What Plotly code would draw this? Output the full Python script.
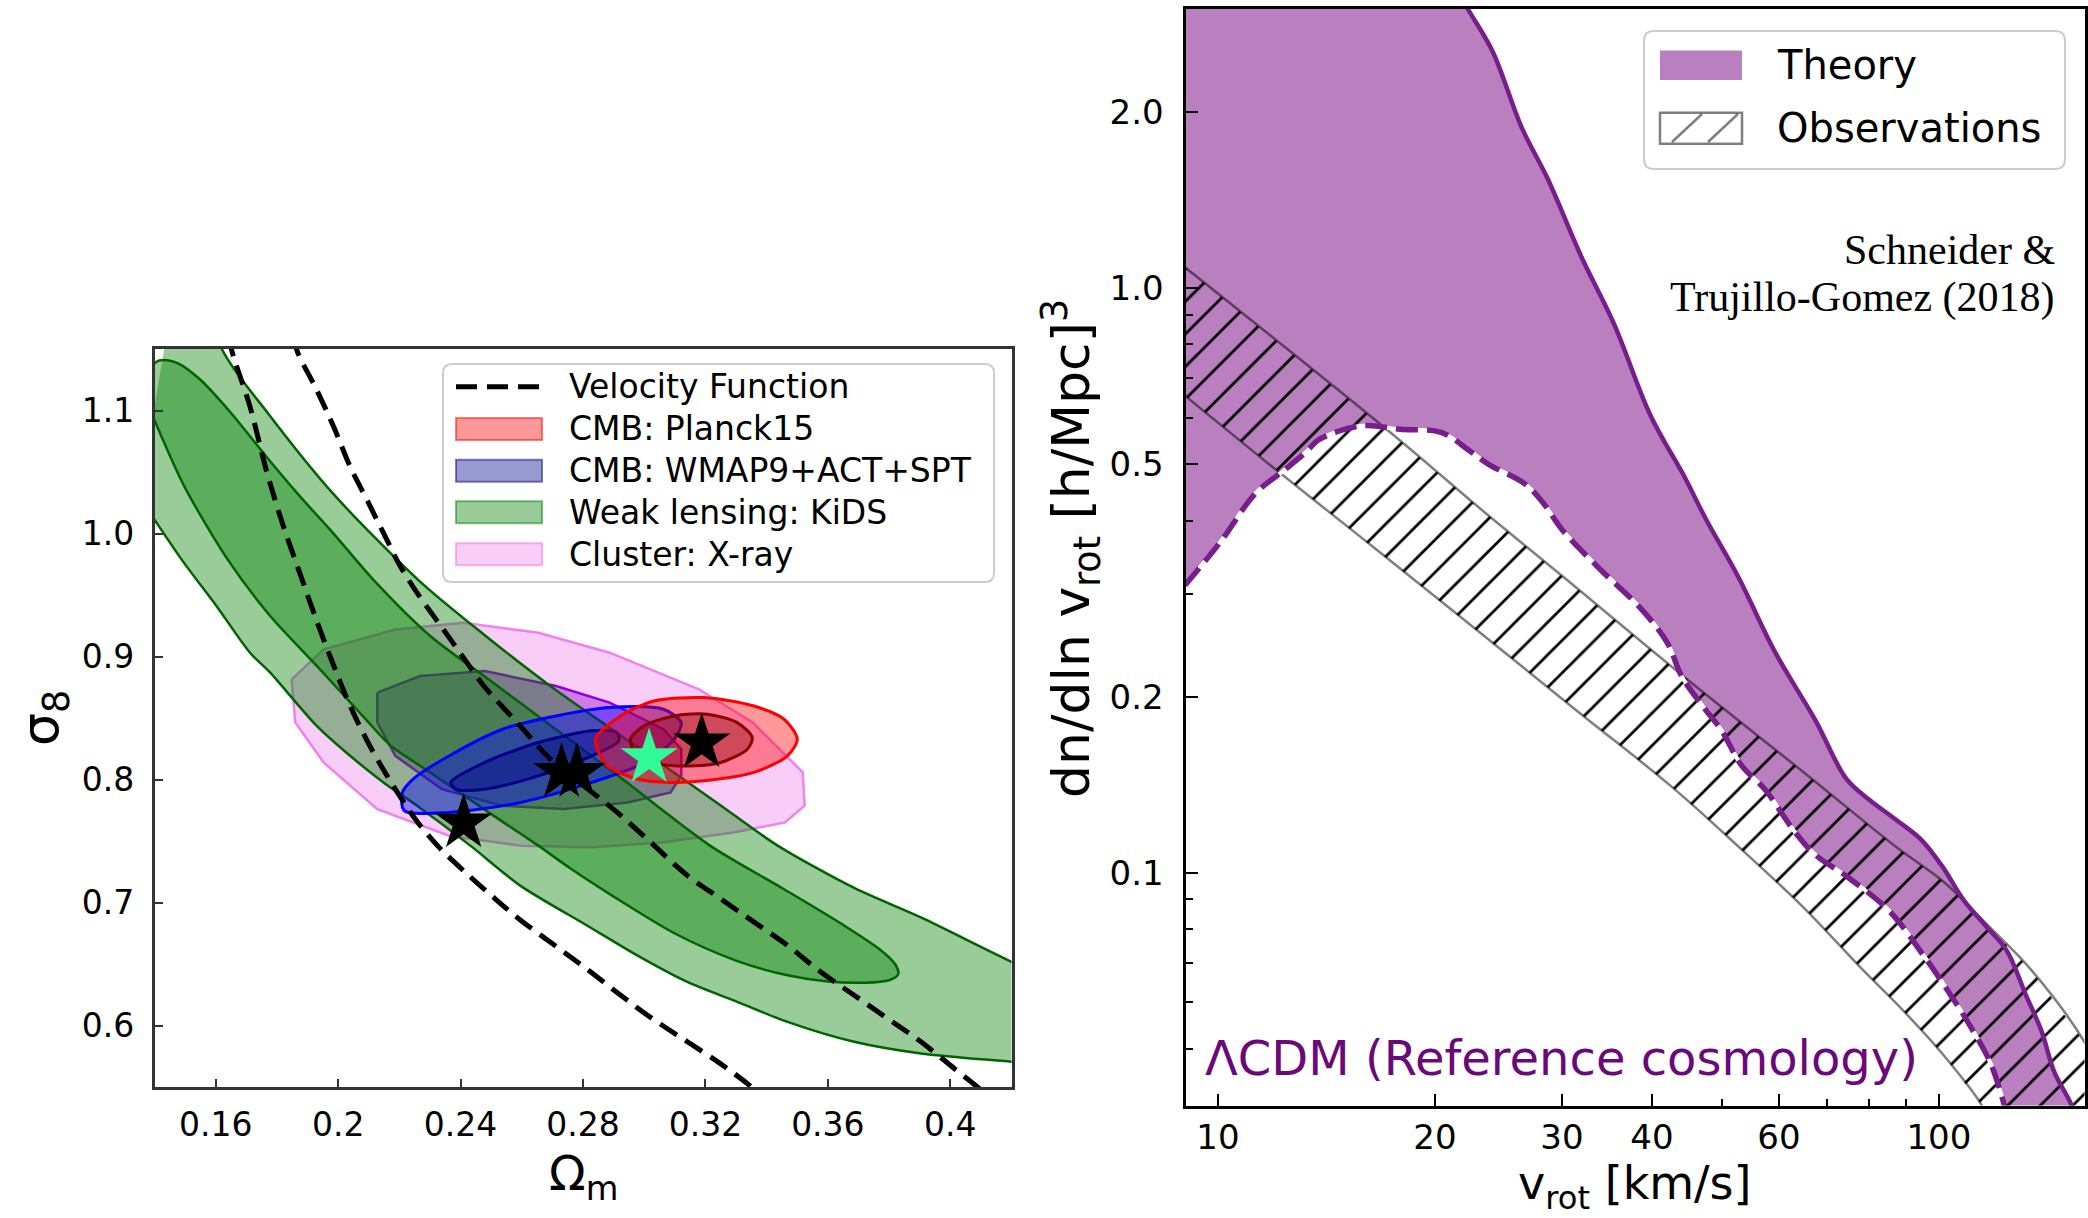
import plotly.graph_objects as go

FIG_W, FIG_H = 2088, 1218

# ---------------- Left panel: sigma_8 vs Omega_m constraints ----------------
# KiDS weak lensing, outer (95%) band: upper edge left->right, lower edge right->left
kids95_om = [0.150, 0.162, 0.177, 0.1985, 0.2263, 0.2476, 0.2694, 0.2912, 0.3119, 0.325, 0.3436,
             0.3686, 0.3904, 0.420, 0.440,
             0.440, 0.420, 0.3904, 0.3686, 0.3468, 0.3304, 0.3141, 0.2977, 0.2813, 0.2595, 0.2432,
             0.2258, 0.2148, 0.2039, 0.193, 0.1778, 0.1712, 0.1603, 0.1494, 0.140, 0.135]
kids95_s8 = [1.25, 1.15, 1.098, 1.032, 0.962, 0.918, 0.876, 0.838, 0.802, 0.779, 0.7464,
             0.712, 0.688, 0.652, 0.630,
             0.566, 0.5707, 0.5775, 0.587, 0.6032, 0.6194, 0.6356, 0.6572, 0.6815, 0.7139, 0.7464,
             0.7788, 0.7978, 0.8194, 0.8437, 0.887, 0.9032, 0.941, 0.977, 1.0113, 1.03]

# KiDS inner (68%) contour
kids68_om = [0.138, 0.1405, 0.143, 0.148, 0.155, 0.165, 0.1767, 0.1876, 0.1985, 0.2117, 0.230, 0.250,
             0.270, 0.290, 0.3215, 0.345, 0.365, 0.377, 0.382, 0.383,
             0.380, 0.372, 0.360, 0.3468, 0.330, 0.310, 0.290, 0.2758, 0.2654, 0.250, 0.230, 0.217,
             0.2094, 0.1931, 0.1778, 0.1636, 0.1494, 0.140, 0.137]
kids68_s8 = [1.130, 1.1395, 1.141, 1.138, 1.125, 1.098, 1.062, 1.030, 1.000, 0.962, 0.917, 0.880,
             0.843, 0.806, 0.7464, 0.712, 0.682, 0.662, 0.650, 0.642,
             0.637, 0.635, 0.636, 0.641, 0.653, 0.675, 0.705, 0.728, 0.7464, 0.772, 0.806, 0.828,
             0.848, 0.8923, 0.933, 0.980, 1.040, 1.092, 1.110]

# Cluster X-ray contours
xray95_om = [0.1848, 0.1953, 0.2187, 0.2409, 0.2654, 0.2887, 0.3179, 0.3355, 0.3518, 0.3524, 0.3460,
             0.3296, 0.3063, 0.2829, 0.2596, 0.2362, 0.2128, 0.1953, 0.186, 0.1848]
xray95_s8 = [0.8815, 0.9059, 0.9221, 0.9275, 0.9194, 0.9032, 0.8734, 0.8464, 0.8059, 0.7789, 0.7653,
             0.7572, 0.7491, 0.745, 0.7464, 0.7545, 0.776, 0.8139, 0.8464, 0.8815]
xray68_om = [0.2128, 0.2268, 0.2479, 0.2712, 0.2887, 0.3063, 0.3121, 0.3121, 0.3086, 0.2946, 0.2736,
             0.2537, 0.2339, 0.2187, 0.2128, 0.2128]
xray68_s8 = [0.8707, 0.8842, 0.8883, 0.8761, 0.8626, 0.841, 0.8248, 0.8031, 0.7896, 0.7815, 0.7761,
             0.7788, 0.7923, 0.8193, 0.8464, 0.8707]

# CMB: WMAP9+ACT+SPT contours
wmap95_om = [0.221, 0.2245, 0.2362, 0.2537, 0.2712, 0.2887, 0.3063, 0.3121, 0.3098, 0.3004, 0.2829,
             0.2596, 0.2362, 0.2216, 0.221]
wmap95_s8 = [0.7897, 0.8005, 0.8193, 0.841, 0.8518, 0.8586, 0.8572, 0.8464, 0.8329, 0.814, 0.7978,
             0.7815, 0.7734, 0.7748, 0.7897]
wmap68_om = [0.2368, 0.2479, 0.2654, 0.2829, 0.2911, 0.2917, 0.2829, 0.2654, 0.2479, 0.2385, 0.2368]
wmap68_s8 = [0.7978, 0.814, 0.8302, 0.8397, 0.8383, 0.8315, 0.8193, 0.8031, 0.7923, 0.7923, 0.7978]

# CMB: Planck15 contours
planck95_om = [0.2841, 0.2923, 0.3032, 0.3195, 0.3358, 0.3457, 0.350, 0.3468, 0.3358, 0.3195, 0.3086,
               0.2977, 0.2879, 0.2841]
planck95_s8 = [0.8329, 0.8518, 0.864, 0.8667, 0.8599, 0.8491, 0.8329, 0.8194, 0.8059, 0.7991, 0.7978,
               0.8005, 0.8113, 0.8329]
planck68_om = [0.2955, 0.2999, 0.3097, 0.3206, 0.3304, 0.3353, 0.3337, 0.325, 0.3163, 0.3054, 0.2977, 0.2955]
planck68_s8 = [0.8329, 0.8437, 0.8518, 0.8532, 0.8464, 0.8343, 0.8248, 0.814, 0.8113, 0.8126, 0.8194, 0.8329]

# Velocity-function degeneracy lines
vf_low_om = [0.1645, 0.1652, 0.1712, 0.1767, 0.1821, 0.1876, 0.193, 0.1985, 0.2039, 0.2094, 0.2148,
             0.2203, 0.2258, 0.233, 0.241, 0.250, 0.2595, 0.2704, 0.2813, 0.2922, 0.3031, 0.3141,
             0.325, 0.3337, 0.336]
vf_low_s8 = [1.16, 1.1492, 1.1032, 1.05, 1.006, 0.967, 0.929, 0.893, 0.86, 0.832, 0.808,
             0.786, 0.766, 0.745, 0.726, 0.706, 0.686, 0.666, 0.646, 0.625, 0.605, 0.587,
             0.569, 0.553, 0.548]
vf_high_om = [0.1858, 0.1865, 0.193, 0.1985, 0.2039, 0.2094, 0.2148, 0.2203, 0.2258, 0.2312, 0.2367,
              0.2421, 0.2476, 0.2585, 0.2694, 0.2803, 0.2912, 0.3021, 0.3141, 0.325, 0.3359, 0.3468,
              0.3577, 0.3686, 0.3795, 0.3904, 0.4013, 0.4079, 0.410]
vf_high_s8 = [1.16, 1.1492, 1.1167, 1.087, 1.0546, 1.0275, 1.0005, 0.9735, 0.9518, 0.9329, 0.914,
              0.8951, 0.8761, 0.8464, 0.8166, 0.795, 0.7734, 0.7491, 0.7221, 0.7032, 0.6842, 0.6653,
              0.6437, 0.6248, 0.6059, 0.587, 0.5653, 0.5523, 0.548]

# Best-fit points
best_om = [0.241, 0.273, 0.278, 0.3188]
best_s8 = [0.765, 0.806, 0.806, 0.830]
ref_om = [0.3016]
ref_s8 = [0.818]

om_ticks = [0.16, 0.2, 0.24, 0.28, 0.32, 0.36, 0.4]
om_ticktext = ["0.16", "0.2", "0.24", "0.28", "0.32", "0.36", "0.4"]
s8_ticks = [0.6, 0.7, 0.8, 0.9, 1.0, 1.1]
s8_ticktext = ["0.6", "0.7", "0.8", "0.9", "1.0", "1.1"]

# ---------------- Right panel: velocity function ----------------
theory_up_v = [9.0, 15.0, 19.0, 22.2, 24.06, 26.36, 28.68, 31.92, 35.45, 39.81, 44.46, 47.53, 52.72,
               59.29, 67.45, 74.33, 79.98, 87.10, 94.41, 101.2, 108.3, 116.9, 124.2, 132.1, 138.8,
               144.5, 152.4, 154.9]
theory_up_n = [20.0, 6.8, 4.16, 3.0, 2.53, 1.884, 1.534, 1.130, 0.866, 0.605, 0.473, 0.402, 0.320,
               0.238, 0.182, 0.145, 0.1334, 0.1233, 0.1140, 0.1023, 0.0897, 0.0804, 0.0736, 0.0617,
               0.0536, 0.0457, 0.0403, 0.038]
theory_lo_v = [9.0, 10.1, 11.27, 12.42, 13.3, 13.8, 15.85, 17.88, 20.4, 22.4, 23.8, 26.6, 28.2, 30.06,
               34.0, 38.7, 42.05, 43.97, 47.33, 49.96, 53.27, 57.4, 63.1, 67.4, 74.6, 85.3, 95.06,
               105.2, 110.7, 117.8, 123.0, 124.5]
theory_lo_n = [0.31, 0.369, 0.445, 0.490, 0.526, 0.55, 0.581, 0.573, 0.566, 0.525, 0.498, 0.463, 0.43,
               0.385, 0.329, 0.282, 0.2466, 0.2168, 0.1907, 0.175, 0.1524, 0.1387, 0.1175, 0.1073,
               0.0984, 0.0861, 0.0724, 0.0603, 0.0545, 0.0474, 0.0404, 0.038]

obs_up_v = [9.0, 17.28, 23.23, 29.8, 44.87, 65.36, 87.36, 101.6, 116.8, 134.3, 159.6, 175.0]
obs_up_n = [1.084, 0.568, 0.417, 0.324, 0.2135, 0.1475, 0.1105, 0.0964, 0.0814, 0.0682, 0.0511, 0.040]
obs_lo_v = [9.0, 12.0, 15.96, 21.71, 31.46, 42.5, 52.15, 64.66, 78.45, 89.25, 101.6, 114.3, 118.0]
obs_lo_n = [0.654, 0.490, 0.3707, 0.2737, 0.1892, 0.1406, 0.1122, 0.0876, 0.0682, 0.0581, 0.0487,
            0.0403, 0.037]

v_ticks = [10, 20, 30, 40, 60, 100]
v_ticktext = ["10", "20", "30", "40", "60", "100"]
v_minor = [50, 70, 80, 90]
n_ticks = [0.1, 0.2, 0.5, 1.0, 2.0]
n_ticktext = ["0.1", "0.2", "0.5", "1.0", "2.0"]
n_minor = [0.05, 0.06, 0.07, 0.08, 0.09, 0.3, 0.4, 0.6, 0.7, 0.8, 0.9]

# ---------------- styling ----------------
FONT = "DejaVu Sans"
PURPLE_LINE = "#781e8c"
PURPLE_FILL = "rgba(118,0,128,0.5)"


def X(px):
    return px / FIG_W


def Y(py):
    return 1 - py / FIG_H


def rounded_box(x0, y0, x1, y1, r):
    return (f"M{X(x0 + r)},{Y(y0)} L{X(x1 - r)},{Y(y0)} Q{X(x1)},{Y(y0)} {X(x1)},{Y(y0 + r)} "
            f"L{X(x1)},{Y(y1 - r)} Q{X(x1)},{Y(y1)} {X(x1 - r)},{Y(y1)} L{X(x0 + r)},{Y(y1)} "
            f"Q{X(x0)},{Y(y1)} {X(x0)},{Y(y1 - r)} L{X(x0)},{Y(y0 + r)} Q{X(x0)},{Y(y0)} {X(x0 + r)},{Y(y0)} Z")


fig = go.Figure()


def contour(om, s8, fill, edge, width=2.5, shape="spline"):
    fig.add_trace(go.Scatter(x=om, y=s8, mode="lines", fill="toself", fillcolor=fill,
                             line=dict(color=edge, width=width, shape=shape, smoothing=0.8),
                             hoverinfo="skip", showlegend=False, xaxis="x", yaxis="y"))


# drawing order: cluster, weak lensing, WMAP, Planck
contour(xray95_om, xray95_s8, "rgba(238,130,238,0.4)", "#EE82EE", shape="linear")
contour(xray68_om, xray68_s8, "rgba(148,0,211,0.4)", "#9400D3", shape="linear")
contour(kids95_om, kids95_s8, "rgba(0,128,0,0.4)", "#006400")
contour(kids68_om, kids68_s8, "rgba(0,128,0,0.4)", "#006400")
contour(wmap95_om, wmap95_s8, "rgba(0,0,255,0.4)", "#0000FF", width=3)
contour(wmap68_om, wmap68_s8, "rgba(0,0,139,0.4)", "#00008B", width=3)
contour(planck95_om, planck95_s8, "rgba(255,0,0,0.4)", "#FF0000", width=3)
contour(planck68_om, planck68_s8, "rgba(139,0,0,0.4)", "#8B0000", width=3)

for om, s8 in ((vf_low_om, vf_low_s8), (vf_high_om, vf_high_s8)):
    fig.add_trace(go.Scatter(x=om, y=s8, mode="lines",
                             line=dict(color="black", width=5, dash="20px,10px", shape="spline"),
                             hoverinfo="skip", showlegend=False, xaxis="x", yaxis="y"))

fig.add_trace(go.Scatter(x=best_om, y=best_s8, mode="markers",
                         marker=dict(symbol="star", size=43, color="black", line=dict(width=0)),
                         hoverinfo="skip", showlegend=False, xaxis="x", yaxis="y"))
fig.add_trace(go.Scatter(x=ref_om, y=ref_s8, mode="markers",
                         marker=dict(symbol="star", size=43, color="rgb(50,250,150)", line=dict(width=0)),
                         hoverinfo="skip", showlegend=False, xaxis="x", yaxis="y"))

# Right panel: theory band
fig.add_trace(go.Scatter(x=theory_up_v + theory_lo_v[::-1], y=theory_up_n + theory_lo_n[::-1],
                         mode="lines", fill="toself", fillcolor=PURPLE_FILL, line=dict(width=0),
                         hoverinfo="skip", showlegend=False, xaxis="x2", yaxis="y2"))
# Observations: hatched band
fig.add_trace(go.Scatter(x=obs_up_v + obs_lo_v[::-1], y=obs_up_n + obs_lo_n[::-1],
                         mode="lines", fill="toself", fillcolor="rgba(0,0,0,0)",
                         fillpattern=dict(shape="/", fgcolor="black", bgcolor="rgba(0,0,0,0)",
                                          size=23, solidity=0.12, fillmode="replace"),
                         line=dict(width=0), hoverinfo="skip", showlegend=False, xaxis="x2", yaxis="y2"))
for vv, nn in ((obs_up_v, obs_up_n), (obs_lo_v, obs_lo_n)):
    fig.add_trace(go.Scatter(x=vv, y=nn, mode="lines",
                             line=dict(color="rgba(0,0,0,0.5)", width=2.5, shape="spline"),
                             hoverinfo="skip", showlegend=False, xaxis="x2", yaxis="y2"))
# lower theory edge: dashed purple over a white stroke
fig.add_trace(go.Scatter(x=theory_lo_v, y=theory_lo_n, mode="lines",
                         line=dict(color="white", width=4, shape="spline"),
                         hoverinfo="skip", showlegend=False, xaxis="x2", yaxis="y2"))
fig.add_trace(go.Scatter(x=theory_lo_v, y=theory_lo_n, mode="lines",
                         line=dict(color=PURPLE_LINE, width=5.5, dash="22px,9px", shape="spline"),
                         hoverinfo="skip", showlegend=False, xaxis="x2", yaxis="y2"))
fig.add_trace(go.Scatter(x=theory_up_v, y=theory_up_n, mode="lines",
                         line=dict(color=PURPLE_LINE, width=4.5, shape="spline"),
                         hoverinfo="skip", showlegend=False, xaxis="x2", yaxis="y2"))

# ---------------- legends (drawn as shapes + text) ----------------
shapes = []
annotations = []

# left legend
shapes.append(dict(type="path", xref="paper", yref="paper", path=rounded_box(443, 364, 994, 582, 9),
                   line=dict(color="#cccccc", width=2), fillcolor="rgba(255,255,255,0.85)"))
left_rows = [386.7, 429.0, 470.7, 512.3, 554.3]
left_labels = ["Velocity Function", "CMB: Planck15", "CMB: WMAP9+ACT+SPT", "Weak lensing: KiDS",
               "Cluster: X-ray"]
swatches = [None, ("rgba(255,0,0,0.4)", "rgba(255,0,0,0.5)"), ("rgba(0,0,139,0.4)", "rgba(0,0,139,0.5)"),
            ("rgba(0,128,0,0.4)", "rgba(0,128,0,0.5)"), ("rgba(238,130,238,0.4)", "rgba(238,130,238,0.6)")]
for yc, lab, sw in zip(left_rows, left_labels, swatches):
    if sw is None:
        shapes.append(dict(type="line", xref="paper", yref="paper", x0=X(456), x1=X(542), y0=Y(yc), y1=Y(yc),
                           line=dict(color="black", width=5, dash="21px,10px")))
    else:
        shapes.append(dict(type="rect", xref="paper", yref="paper", x0=X(456), x1=X(542),
                           y0=Y(yc - 11), y1=Y(yc + 11), fillcolor=sw[0], line=dict(color=sw[1], width=2)))
    annotations.append(dict(text=lab, xref="paper", yref="paper", x=X(567), y=Y(yc), xanchor="left",
                            yanchor="middle", showarrow=False, font=dict(family=FONT, size=33, color="black")))

# right legend
shapes.append(dict(type="path", xref="paper", yref="paper", path=rounded_box(1644, 31, 2065, 169, 10),
                   line=dict(color="#cccccc", width=2), fillcolor="rgba(255,255,255,0.85)"))
shapes.append(dict(type="rect", xref="paper", yref="paper", x0=X(1660), x1=X(1742), y0=Y(80), y1=Y(50.5),
                   fillcolor=PURPLE_FILL, line=dict(width=0)))
shapes.append(dict(type="rect", xref="paper", yref="paper", x0=X(1660), x1=X(1742), y0=Y(143.7), y1=Y(112.7),
                   fillcolor="rgba(0,0,0,0)", line=dict(color="rgba(0,0,0,0.5)", width=2.5)))
for xa, xb in ((1672, 1702), (1708, 1738)):
    shapes.append(dict(type="line", xref="paper", yref="paper", x0=X(xa), y0=Y(142), x1=X(xb), y1=Y(114),
                       line=dict(color="rgba(0,0,0,0.5)", width=2.5)))
for yc, lab in ((65.3, "Theory"), (128.2, "Observations")):
    annotations.append(dict(text=lab, xref="paper", yref="paper", x=X(1775), y=Y(yc), xanchor="left",
                            yanchor="middle", showarrow=False, font=dict(family=FONT, size=40, color="black")))

# axis titles and panel text
annotations += [
    dict(text="Ω<sub>m</sub>", xref="paper", yref="paper", x=X(583), y=Y(1176), xanchor="center",
         yanchor="middle", showarrow=False, font=dict(family=FONT, size=48, color="black")),
    dict(text="σ<sub>8</sub>", xref="paper", yref="paper", x=X(44), y=Y(718), xanchor="center",
         yanchor="middle", textangle=-90, showarrow=False, font=dict(family=FONT, size=52, color="black")),
    dict(text="v<sub>rot</sub> [km/s]", xref="paper", yref="paper", x=X(1635), y=Y(1186), xanchor="center",
         yanchor="middle", showarrow=False, font=dict(family=FONT, size=46, color="black")),
    dict(text="dn/dln v<sub>rot</sub> [h/Mpc]<sup>3</sup>", xref="paper", yref="paper", x=X(1071), y=Y(549),
         xanchor="center", yanchor="middle", textangle=-90, showarrow=False,
         font=dict(family=FONT, size=52, color="black")),
    dict(text="ΛCDM (Reference cosmology)", xref="paper", yref="paper", x=X(1203), y=Y(1058),
         xanchor="left", yanchor="middle", showarrow=False, font=dict(family=FONT, size=48, color="#6a0a7a")),
    dict(text="Schneider &amp;", xref="paper", yref="paper", x=X(2057), y=Y(250), xanchor="right",
         yanchor="middle", showarrow=False, font=dict(family="Liberation Serif", size=42, color="black")),
    dict(text="Trujillo-Gomez (2018)", xref="paper", yref="paper", x=X(2057), y=Y(297), xanchor="right",
         yanchor="middle", showarrow=False, font=dict(family="Liberation Serif", size=42, color="black")),
]

left_axis_common = dict(showgrid=False, zeroline=False, showline=True, mirror=True, linecolor="#333333",
                        linewidth=2.5, ticks="inside", ticklen=9, tickwidth=2, tickcolor="#333333",
                        tickfont=dict(family=FONT, size=33, color="black"))
right_axis_common = dict(showgrid=False, zeroline=False, showline=True, mirror=True, linecolor="black",
                         linewidth=3, ticks="inside", ticklen=12, tickwidth=2, tickcolor="black",
                         tickfont=dict(family=FONT, size=34, color="black"))

fig.update_layout(
    width=FIG_W, height=FIG_H, margin=dict(l=0, r=0, t=0, b=0),
    paper_bgcolor="white", plot_bgcolor="white", showlegend=False,
    xaxis=dict(domain=[X(154.5), X(1011.5)], range=[0.14, 0.42], anchor="y", tickmode="array",
               tickvals=om_ticks, ticktext=om_ticktext, ticklabelstandoff=6, **left_axis_common),
    yaxis=dict(domain=[Y(1087.3), Y(349)], range=[0.55, 1.15], anchor="x", tickmode="array",
               tickvals=s8_ticks, ticktext=s8_ticktext, ticklabelstandoff=11, **left_axis_common),
    xaxis2=dict(domain=[X(1185.5), X(2084.5)], type="log", range=[0.955, 2.202], anchor="y2",
                tickmode="array", tickvals=v_ticks, ticktext=v_ticktext, ticklabelstandoff=0,
                minor=dict(tickmode="array", tickvals=v_minor, ticks="inside", ticklen=7, tickwidth=2,
                           tickcolor="black"),
                **right_axis_common),
    yaxis2=dict(domain=[Y(1105.5), Y(8.7)], type="log", range=[-1.398, 0.4771], anchor="x2",
                tickmode="array", tickvals=n_ticks, ticktext=n_ticktext, ticklabelstandoff=12,
                minor=dict(tickmode="array", tickvals=n_minor, ticks="inside", ticklen=7, tickwidth=2,
                           tickcolor="black"),
                **right_axis_common),
    shapes=shapes, annotations=annotations,
)

fig.write_html("out.html")
